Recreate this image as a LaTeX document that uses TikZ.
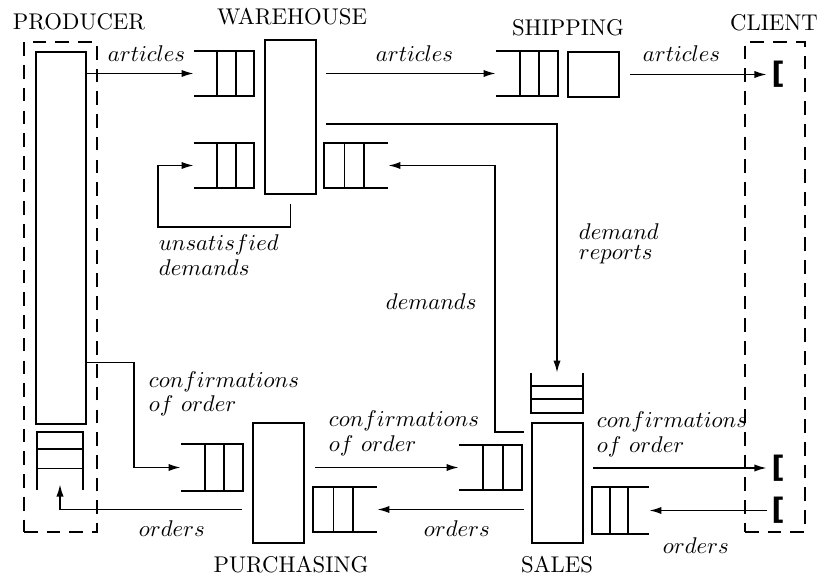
\documentclass[tikz,border=0pt]{standalone}
\usepackage{fontspec}
\setmainfont{Latin Modern Roman}
\newfontfamily\brkfont{DejaVu Sans}
\usetikzlibrary{fit,calc,arrows.meta}
% queue open on the left, closed on the right
\newcommand\qleft[1]{%
  \draw (#1.north west) -- (#1.north east) -- (#1.south east) -- (#1.south west)
    ($(#1.north west)!0.38!(#1.north east)$) -- ($(#1.south west)!0.38!(#1.south east)$)
    ($(#1.north west)!0.70!(#1.north east)$) -- ($(#1.south west)!0.70!(#1.south east)$);}
% queue open on the right, closed on the left
\newcommand\qright[1]{%
  \draw (#1.north east) -- (#1.north west) -- (#1.south west) -- (#1.south east)
    ($(#1.north west)!0.32!(#1.north east)$) -- ($(#1.south west)!0.32!(#1.south east)$)
    ($(#1.north west)!0.63!(#1.north east)$) -- ($(#1.south west)!0.63!(#1.south east)$);}
% queue open at the bottom
\newcommand\qdown[1]{%
  \draw (#1.south west) -- (#1.north west) -- (#1.north east) -- (#1.south east)
    ($(#1.north west)!0.30!(#1.south west)$) -- ($(#1.north east)!0.30!(#1.south east)$)
    ($(#1.north west)!0.63!(#1.south west)$) -- ($(#1.north east)!0.63!(#1.south east)$);}
% queue open at the top
\newcommand\qup[1]{%
  \draw (#1.north west) -- (#1.south west) -- (#1.south east) -- (#1.north east)
    ($(#1.north west)!0.33!(#1.south west)$) -- ($(#1.north east)!0.33!(#1.south east)$)
    ($(#1.north west)!0.66!(#1.south west)$) -- ($(#1.north east)!0.66!(#1.south east)$);}
\begin{document}
\begin{tikzpicture}[x=0.44pt,y=-0.44pt,line width=0.85pt,
  box/.style={draw,inner sep=0pt},
  queue/.style={inner sep=0pt},
  env/.style={draw,dash pattern=on 6pt off 4pt,inner sep=0pt},
  arr/.style={-{Latex[length=5.5pt,width=3.2pt]}},
  lab/.style={inner sep=0pt,anchor=base west},
  ttl/.style={inner sep=0pt,anchor=base},
  ml/.style={inner sep=0pt,anchor=north west,align=left},
  brk/.style={inner sep=0pt,font=\brkfont\bfseries\fontsize{13pt}{13pt}\selectfont}]
\useasboundingbox (0,0) rectangle (820,576);

% environments
\node[env,fit={(24,42) (97,532)}] (prodenv) {};
\node[env,fit={(745,42) (805,532)}] (clientenv) {};

% processes
\node[box,fit={(36,52) (86,424)}] (prod) {};
\node[box,fit={(265,40) (316,194)}] (ware) {};
\node[box,fit={(568,52) (619,97)}] (ship) {};
\node[box,fit={(253,423) (304,543)}] (purch) {};
\node[box,fit={(532,423) (583,543)}] (sales) {};

% queues
\node[queue,fit={(195,52) (253,95)}] (qwa) {};
\node[queue,fit={(195,144) (253,187)}] (qwd) {};
\node[queue,fit={(325,144) (387,187)}] (qwr) {};
\node[queue,fit={(497,52) (557,95)}] (qsh) {};
\node[queue,fit={(182,445) (242,490)}] (qpc) {};
\node[queue,fit={(460,446) (521,489)}] (qsc) {};
\node[queue,fit={(314,488) (376,531)}] (qpo) {};
\node[queue,fit={(593,488) (648,533)}] (qso) {};
\node[queue,fit={(38,433) (82,489)}] (qprod) {};
\node[queue,fit={(532,374) (582,412)}] (qsales) {};
\qleft{qwa}\qleft{qwd}\qleft{qsh}\qleft{qpc}\qleft{qsc}
\qright{qwr}\qright{qpo}\qright{qso}
\qdown{qprod}\qup{qsales}

% client ends
\node[brk] (cl1) at (778,74.5) {[};
\node[brk] (cl2) at (778,468) {[};
\node[brk] (cl3) at (778,510.5) {[};

% titles
\node[ttl] (tprod) at (79,30) {PRODUCER};
\node[ttl] (tware) at (292,25) {WAREHOUSE};
\node[ttl] (tship) at (568,36) {SHIPPING};
\node[ttl] (tclient) at (774,31) {CLIENT};
\node[ttl] (tpurch) at (291,572) {PURCHASING};
\node[ttl] (tsales) at (557,572) {SALES};

% connectors
\draw[arr] (prod.east |- qwa.west) -- (qwa.west);
\draw[arr] ([xshift=4pt]ware.east |- qsh.west) -- (qsh.west);
\draw[arr] ([xshift=4.4pt]ship.east) -- ([xshift=-1.5pt]cl1.west);
\coordinate (ul) at (158,227);
\draw[arr] ([yshift=-4pt]ware.south) |- (ul) |- (qwd.west);
\coordinate (wdr) at ($(ware.north east)!0.545!(ware.south east)+(9,0)$);
\draw[arr] (wdr) -| (qsales.north);
\coordinate (sd) at ($(sales.north west)!0.083!(sales.south west)+(-7,0)$);
\coordinate (dturn) at ($(sd)+(-29,0)$);
\draw[arr] (sd) -- (dturn) |- (qwr.east);
\draw[arr] ($(prod.north east)!0.833!(prod.south east)$) -- ++(47,0) |- (qpc.west);
\draw[arr] ([xshift=4.4pt]purch.east |- qsc.west) -- (qsc.west);
\draw[arr] ([xshift=-3pt]sales.west |- qpo.east) -- (qpo.east);
\draw[arr] ([xshift=-4.4pt]purch.west |- qpo.east) -| ([yshift=2.6pt]qprod.south);
\draw[arr] ([xshift=-1.5pt]cl3.west) -- (qso.east);
\draw[arr] ([xshift=4pt]sales.east |- cl2.west) -- ([xshift=-1.5pt]cl2.west);

% labels
\node[lab] (l1) at (107,62) {$articles$};
\node[lab] (l2) at (375,62) {$articles$};
\node[lab] (l3) at (642,62) {$articles$};
\node[ml] (l4) at (158,234.2) {$unsatisfied$\\[-1pt]$demands$};
\node[ml] (l5) at (578,223.2) {$demand$\\[-3.2pt]$reports$};
\node[lab] (l6) at (385,310) {$demands$};
\node[ml] (l7) at (148,371) {$confirmations$\\[-1.5pt]$of\ order$};
\node[ml] (l8) at (328,410) {$confirmations$\\[-1pt]$of\ order$};
\node[ml] (l9) at (596,411) {$confirmations$\\[-1pt]$of\ order$};
\node[lab] (l10) at (138,536) {$orders$};
\node[lab] (l11) at (423,536) {$orders$};
\node[lab] (l12) at (662,553) {$orders$};
\end{tikzpicture}
\end{document}
